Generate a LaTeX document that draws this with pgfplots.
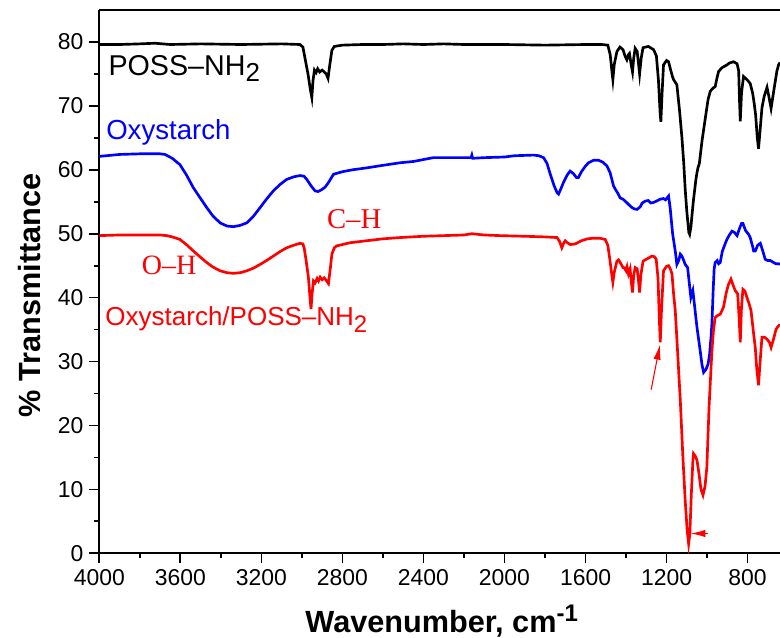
\documentclass[border=0pt]{standalone}
\usepackage{pgfplots}
\pgfplotsset{compat=1.18}
\usepackage{fontspec}
\setmainfont{Liberation Sans}
\newfontfamily\serifrm{Liberation Serif}
\usetikzlibrary{arrows.meta}
\definecolor{pblue}{RGB}{0,0,255}
\definecolor{pred}{RGB}{255,0,0}
\begin{document}
\begin{tikzpicture}
\begin{axis}[
  scale only axis,
  width=510.5pt, height=407.5pt,
  x dir=reverse,
  xmin=640, xmax=4000, ymin=0, ymax=85,
  axis x line=box, axis y line=left,
  axis line style={-, line width=1.4pt},
  every outer x axis line/.append style={-},
  every outer y axis line/.append style={-},
  xtick={800,1200,...,4000},
  ytick={0,10,...,80},
  minor x tick num=1, minor y tick num=1,
  xtick pos=bottom,
  tick align=outside,
  major tick length=7.5pt, minor tick length=3.75pt,
  tick style={line width=1.3pt, black},
  /pgf/number format/assume math mode=true,
  /pgf/number format/1000 sep={},
  ticklabel style={font=\fontsize{17.2}{19}\selectfont},
  xticklabel style={yshift=-1pt},
  yticklabel style={xshift=-1pt},
  xlabel={\bfseries Wavenumber, cm\raisebox{8pt}{\fontsize{18}{18}\selectfont\bfseries -1}},
  ylabel={\bfseries \% Transmittance},
  xlabel style={font=\fontsize{23}{26}\selectfont, at={(axis description cs:0.503,-0.1449)}, anchor=base},
  ylabel style={font=\fontsize{23}{26}\selectfont, at={(axis description cs:-0.103,0.475)}, anchor=center},
]
% POSS-NH2
\addplot[black, line width=2pt] coordinates {
(4000,79.6)(3900,79.6)(3800,79.7)(3725,79.8)(3650,79.6)(3500,79.7)(3300,79.6)(3100,79.7)(3010,79.6)
(2995,79.2)(2985,77.5)(2970,75)(2958,72.5)(2951,71.3)(2945,74)(2938,75.6)(2930,75.2)(2922,75.8)
(2912,75.3)(2900,75.6)(2890,75.3)(2880,75)(2871,74.3)(2862,76.5)(2852,78.7)(2840,79.3)(2800,79.5)
(2700,79.6)(2600,79.6)(2500,79.7)(2400,79.6)(2300,79.7)(2200,79.6)(2000,79.6)(1800,79.5)(1600,79.6)
(1520,79.6)(1490,79.5)(1478,78)(1470,75.5)(1465,74.1)(1458,76.5)(1445,78.5)(1430,79.2)(1415,78.8)
(1405,77.8)(1396,77.2)(1388,78)(1383,78.2)(1375,76.5)(1368,75.3)(1362,77.5)(1355,79)(1345,78.5)
(1338,76.5)(1333,75)(1325,77.5)(1316,79.1)(1290,79.3)(1264,78.8)(1250,77.8)(1240,74)(1232,69)
(1228,67.5)(1222,72)(1215,76.4)(1200,77.1)(1190,76.9)(1178,75.4)(1170,74.5)(1165,74.1)(1149,73.3)
(1135,69)(1124,65)(1115,61)(1108,57)(1100,53.5)(1090,50.2)(1086,49.9)(1080,51)(1068,55)(1055,58.5)
(1050,59.5)(1045,60.3)(1038,61)(1025,64.5)(1009,68)(995,71)(984,72.3)(970,72.8)(960,73)(950,74.5)
(943,75.4)(925,76)(902,76.4)(890,76.7)(870,76.9)(852,76.6)(844,75.5)(840,71)(836,67.6)(830,72)
(820,74.6)(810,74.3)(800,74)(787,73.5)(775,72)(767,70.3)(760,68.5)(752,65)(746,63.3)(740,65.5)
(729,69.7)(718,71.5)(704,72.9)(695,71.5)(684,69.6)(670,72.5)(655,75.5)(647,76.4)(640,76.8)
};
% Oxystarch
\addplot[pblue, line width=2pt] coordinates {
(4000,62.1)(3900,62.4)(3800,62.5)(3700,62.5)(3676,62.4)(3640,61.8)(3602,60.8)(3570,59.2)(3536,57.2)
(3500,55.5)(3470,54.1)(3440,52.8)(3404,51.7)(3370,51.2)(3338,51.1)(3305,51.3)(3272,51.7)(3240,52.7)
(3206,54.1)(3175,55.4)(3141,56.7)(3108,57.7)(3075,58.5)(3040,58.9)(3009,59.1)(2990,59)(2976,58.5)
(2955,57.5)(2935,56.7)(2920,56.6)(2902,56.9)(2885,57.3)(2869,58)(2844,59.3)(2800,59.7)(2750,60)
(2680,60.3)(2600,60.7)(2515,61.1)(2450,61.3)(2351,61.9)(2250,61.9)(2165,61.9)(2161,62.3)(2157,61.8)
(2100,61.9)(2000,62)(1950,62.2)(1857,62.3)(1830,62.2)(1807,61.9)(1790,61)(1774,59.3)(1755,57.5)
(1740,56.4)(1733,56.2)(1722,57)(1709,58)(1690,59.2)(1676,59.8)(1660,59.4)(1645,58.8)(1635,58.8)
(1620,59.7)(1600,60.6)(1585,61.1)(1560,61.5)(1536,61.5)(1515,61.2)(1494,60.6)(1478,59.5)(1462,57.5)
(1450,56.8)(1440,56.3)(1429,55.6)(1415,55.4)(1404,55.1)(1385,54.5)(1371,54.1)(1360,53.9)(1346,53.8)
(1330,54.2)(1320,54.8)(1305,55.1)(1290,55.2)(1278,54.8)(1264,54.9)(1250,55.1)(1231,55.4)(1215,55.5)
(1205,55.3)(1190,55.9)(1182,54)(1170,50)(1157,47.3)(1149,45.2)(1140,45.8)(1132,46.8)(1124,46.5)
(1115,45.8)(1108,45.2)(1096,44.7)(1080,40)(1070,41.1)(1050,35.4)(1034,31.7)(1025,29.5)(1017,28.3)
(1005,28.8)(995,29.6)(988,31)(980,34)(976,36)(970,41)(965,44.5)(960,45.5)(950,45.8)(943,45.3)
(935,45.5)(925,47.2)(910,48.5)(902,49.1)(890,49.8)(877,50.4)(865,50.2)(852,49.7)(840,50.8)(830,51.6)
(823,51.6)(810,50.5)(795,49.9)(787,49.4)(775,48)(770,47.3)(762,47.3)(750,48.2)(737,48.5)(725,47.3)
(713,46)(700,45.8)(688,45.8)(672,45.5)(660,45.3)(647,45.3)(640,45.2)
};
% Oxystarch/POSS-NH2
\addplot[pred, line width=2pt] coordinates {
(4000,49.7)(3900,49.8)(3800,49.8)(3700,49.8)(3667,49.7)(3640,49.5)(3602,49.1)(3570,48.3)(3536,47.3)
(3500,46.3)(3470,45.5)(3440,44.8)(3404,44.2)(3370,43.9)(3338,43.8)(3305,43.9)(3272,44.2)(3240,44.6)
(3206,45.2)(3175,45.8)(3141,46.5)(3108,47.2)(3075,47.8)(3040,48.2)(3009,48.5)(2995,48.4)(2989,47.8)
(2980,46)(2968,43.2)(2960,40)(2955,38.2)(2950,40.5)(2943,42.6)(2935,42.3)(2925,43)(2918,42.6)
(2910,43.2)(2900,42.8)(2890,43.1)(2880,42.7)(2869,42.2)(2860,44.5)(2852,46.8)(2840,47.8)(2828,48.1)
(2760,48.6)(2680,48.9)(2600,49.2)(2515,49.4)(2400,49.6)(2300,49.7)(2200,49.8)(2160,50)(2100,49.8)
(2021,49.7)(1900,49.6)(1800,49.5)(1741,49.4)(1728,48.8)(1717,47.8)(1708,48.5)(1700,48.9)(1690,48.6)
(1675,48.3)(1651,48.4)(1620,48.9)(1590,49.2)(1561,49.3)(1530,49.3)(1503,49.1)(1490,48.2)(1480,46)
(1470,43.5)(1465,42.4)(1458,44)(1445,45.7)(1437,45.9)(1425,45.3)(1415,44.7)(1409,44.7)(1400,44.2)
(1395,44.8)(1388,43.7)(1380,44.5)(1374,42.5)(1368,40.8)(1362,43.5)(1355,44.7)(1345,44.5)(1338,42.5)
(1333,40.8)(1327,43.5)(1316,45.7)(1300,46)(1272,46.5)(1260,46.4)(1251,46)(1242,43)(1236,37)(1231,33)
(1225,38)(1215,44.2)(1200,44.9)(1190,45)(1180,44.4)(1173,43.7)(1165,40.5)(1157,38)(1148,33)
(1132,23.9)(1120,15.5)(1108,8.3)(1098,3.5)(1091,1.5)(1085,3)(1078,9)(1070,14.5)(1067,15.6)
(1058,15.2)(1050,14.6)(1040,12.5)(1030,10)(1020,9.1)(1010,10.5)(1001,13.5)(990,23)(982,28)
(976,31.7)(968,35)(960,36.9)(948,37.2)(935,37.4)(919,38.5)(905,40.8)(895,42)(882,42.9)(872,42)
(861,41.1)(849,40.6)(842,37)(836,33)(830,38.5)(823,41.3)(813,41)(803,40)(792,39)(783,38)(770,34.3)
(762,32.2)(755,29)(746,26.3)(738,30)(729,33.8)(716,33.8)(704,33.5)(692,33)(684,32.2)(672,33.5)
(660,35)(652,35.4)(640,35.8)
};
% annotations
\node[anchor=base west, inner sep=0pt, text=black, font=\fontsize{21.5}{24}\selectfont] at (axis cs:3956,74.8) {POSS–NH\raisebox{-5pt}{\fontsize{19.5}{19.5}\selectfont 2}};
\node[anchor=base west, inner sep=0pt, text=pblue, font=\fontsize{20.7}{24}\selectfont] at (axis cs:3967,64.7) {Oxystarch};
\node[anchor=base west, inner sep=0pt, text=pred, font=\fontsize{19.5}{24}\selectfont] at (axis cs:3971,35.6) {Oxystarch/POSS–NH\raisebox{-5pt}{\fontsize{18}{18}\selectfont 2}};
\node[anchor=base west, inner sep=0pt, text=pred, font=\serifrm\fontsize{21}{24}\selectfont] at (axis cs:3791,43.6) {O–H};
\node[anchor=base west, inner sep=0pt, text=pred, font=\serifrm\fontsize{21.5}{24}\selectfont] at (axis cs:2877,50.8) {C–H};
\draw[pred, line width=0.8pt, -{Latex[length=11pt,width=5.5pt]}] (axis cs:1276,25.6) -- (axis cs:1233,32.6);
\draw[pred, line width=0.8pt, -{Latex[length=11pt,width=5.5pt]}] (axis cs:993,3.1) -- (axis cs:1081,3.1);
\end{axis}
\pgfresetboundingbox
\path ([xshift=-74.5pt,yshift=-63.5pt]current axis.south west) rectangle ([yshift=7.5pt]current axis.north east);
\end{tikzpicture}
\end{document}
